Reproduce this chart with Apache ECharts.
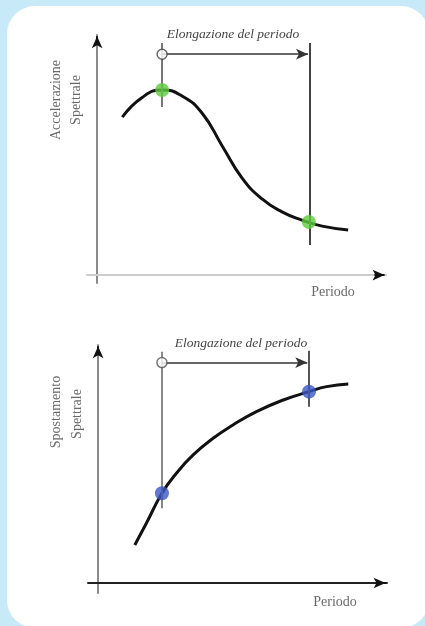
<!DOCTYPE html>
<html>
<head>
<meta charset="utf-8">
<script src="https://cdn.jsdelivr.net/npm/echarts@6/dist/echarts.min.js"></script>
<style>
  html, body { margin: 0; padding: 0; background: #c8e9f8; width: 425px; height: 626px; overflow: hidden; }
  #card { position: absolute; left: 7px; top: 6px; width: 422px; height: 622px; background: #ffffff; border-radius: 28px; }
  #chart { position: absolute; left: 0; top: 0; width: 425px; height: 626px; }
</style>
</head>
<body>
<div id="card"></div>
<div id="chart"></div>
<script>
// ---- data (arbitrary units: period on x, spectral value on y) ----
const titleText = 'Elongazione del periodo';
const xLabelText = 'Periodo';
const topYLabel = ['Accelerazione', 'Spettrale'];
const botYLabel = ['Spostamento', 'Spettrale'];

const accPeriod = [8.7, 15.6, 22.5, 29.4, 36.3, 43.3, 50.2, 57.1, 64.0, 70.9, 77.9, 86.9];
const accValue  = [65.8, 74.0, 77.1, 74.6, 67.5, 53.8, 40.4, 31.7, 26.3, 22.9, 20.4, 18.8];
const accPoints = [[22.5, 77.1], [73.3, 22.1]];

const dispPeriod = [12.7, 16.7, 22.1, 27.1, 32.9, 39.8, 46.7, 54.8, 64.1, 73.0, 79.1, 86.6];
const dispValue  = [16.0, 25.1, 37.7, 46.1, 53.8, 60.8, 66.4, 72.0, 76.9, 80.4, 82.5, 83.6];
const dispPoints = [[22.1, 37.7], [73.0, 80.4]];

// period before / after elongation, guide line extents, arrow level
const accT1 = 22.5, accT2 = 73.6, accArrowY = 92.0;
const accGuide1 = [70.0, 96.7], accGuide2 = [12.5, 96.7];
const dispT1 = 22.1, dispT2 = 73.0, dispArrowY = 92.6;
const dispGuide1 = [31.4, 97.2], dispGuide2 = [74.1, 97.6];

const chart = echarts.init(document.getElementById('chart'), null, { renderer: 'canvas' });

function zip(a, b) { return a.map((v, i) => [v, b[i]]); }

function axisX(idx, color) {
  return {
    type: 'value', gridIndex: idx, min: -3.5, max: 100,
    axisLine: { show: true, onZero: true, symbol: 'none',
      lineStyle: { color: color, width: 2 } },
    axisTick: { show: false }, axisLabel: { show: false }, splitLine: { show: false }
  };
}
function axisY(idx, min) {
  return {
    type: 'value', gridIndex: idx, min: min, max: 100,
    axisLine: { show: true, onZero: true, symbol: 'none',
      lineStyle: { color: '#8a8a8a', width: 2 } },
    axisTick: { show: false }, axisLabel: { show: false }, splitLine: { show: false }
  };
}

function guideSeries(idx, t1, t2, g1, g2, arrowY, c1, c2) {
  const dark = { color: '#111', width: 2, type: 'solid' };
  return {
    type: 'line', xAxisIndex: idx, yAxisIndex: idx, data: [], silent: true,
    markLine: {
      silent: true, animation: false, label: { show: false },
      data: [
        [{ coord: [t1, g1[0]], symbol: 'none', lineStyle: { color: c1, width: 2, type: 'solid' } },
         { coord: [t1, g1[1]], symbol: 'none' }],
        [{ coord: [t2, g2[0]], symbol: 'none', lineStyle: { color: c2, width: 2, type: 'solid' } },
         { coord: [t2, g2[1]], symbol: 'none' }],
        [{ coord: [t1, arrowY], symbol: 'none', lineStyle: { color: '#333', width: 1.5, type: 'solid' } },
         { coord: [t2 - 0.6, arrowY], symbol: 'arrow', symbolSize: [8, 12] }],
        // dark arrow heads at the end of both axes
        [{ coord: [96, 0], symbol: 'none', lineStyle: dark },
         { coord: [99.5, 0], symbol: 'arrow', symbolSize: [8, 12] }],
        [{ coord: [0, 96], symbol: 'none', lineStyle: dark },
         { coord: [0, 99.5], symbol: 'arrow', symbolSize: [8, 12] }]
      ]
    }
  };
}

const serif = '"Liberation Serif", "DejaVu Serif", serif';

chart.setOption({
  backgroundColor: 'transparent',
  animation: false,
  grid: [
    { left: 87, top: 35, width: 299, height: 248 },
    { left: 88, top: 345, width: 299, height: 248 }
  ],
  xAxis: [axisX(0, '#cccccc'), axisX(1, '#222222')],
  yAxis: [axisY(0, -3.3), axisY(1, -4.2)],
  series: [
    guideSeries(0, accT1, accT2, accGuide1, accGuide2, accArrowY, '#777777', '#444444'),
    guideSeries(1, dispT1, dispT2, dispGuide1, dispGuide2, dispArrowY, '#888888', '#555555'),
    {
      type: 'line', xAxisIndex: 0, yAxisIndex: 0, data: zip(accPeriod, accValue),
      smooth: 0.5, showSymbol: false, lineStyle: { color: '#111', width: 3 }, z: 3
    },
    {
      type: 'line', xAxisIndex: 1, yAxisIndex: 1, data: zip(dispPeriod, dispValue),
      smooth: 0.5, showSymbol: false, lineStyle: { color: '#111', width: 3 }, z: 3
    },
    {
      type: 'scatter', xAxisIndex: 0, yAxisIndex: 0, data: accPoints, symbolSize: 14,
      itemStyle: { color: '#5ccc3c' }, z: 5
    },
    {
      type: 'scatter', xAxisIndex: 1, yAxisIndex: 1, data: dispPoints, symbolSize: 14,
      itemStyle: { color: '#3a55c4' }, z: 5
    },
    {
      type: 'scatter', xAxisIndex: 0, yAxisIndex: 0, data: [[accT1, accArrowY]], symbol: 'circle',
      symbolSize: 10, itemStyle: { color: '#ffffff', borderColor: '#444', borderWidth: 1.5 }, z: 6
    },
    {
      type: 'scatter', xAxisIndex: 1, yAxisIndex: 1, data: [[dispT1, dispArrowY]], symbol: 'circle',
      symbolSize: 10, itemStyle: { color: '#ffffff', borderColor: '#555', borderWidth: 1.5 }, z: 6
    }
  ],
  graphic: [
    { type: 'text', x: 233, y: 34, style: { text: titleText, font: 'italic 13.5px ' + serif, fill: '#444', align: 'center', verticalAlign: 'middle' } },
    { type: 'text', x: 241, y: 343, style: { text: titleText, font: 'italic 13.5px ' + serif, fill: '#444', align: 'center', verticalAlign: 'middle' } },
    { type: 'text', x: 333, y: 292, style: { text: xLabelText, font: '14px ' + serif, fill: '#6a6a6a', align: 'center', verticalAlign: 'middle' } },
    { type: 'text', x: 335, y: 602, style: { text: xLabelText, font: '14px ' + serif, fill: '#6a6a6a', align: 'center', verticalAlign: 'middle' } },
    { type: 'text', x: 56, y: 100, rotation: Math.PI / 2, style: { text: topYLabel[0], font: '14px ' + serif, fill: '#6a6a6a', align: 'center', verticalAlign: 'middle' } },
    { type: 'text', x: 76, y: 100, rotation: Math.PI / 2, style: { text: topYLabel[1], font: '14px ' + serif, fill: '#6a6a6a', align: 'center', verticalAlign: 'middle' } },
    { type: 'text', x: 56, y: 412, rotation: Math.PI / 2, style: { text: botYLabel[0], font: '14px ' + serif, fill: '#6a6a6a', align: 'center', verticalAlign: 'middle' } },
    { type: 'text', x: 77, y: 414, rotation: Math.PI / 2, style: { text: botYLabel[1], font: '14px ' + serif, fill: '#6a6a6a', align: 'center', verticalAlign: 'middle' } }
  ]
});
</script>
</body>
</html>
